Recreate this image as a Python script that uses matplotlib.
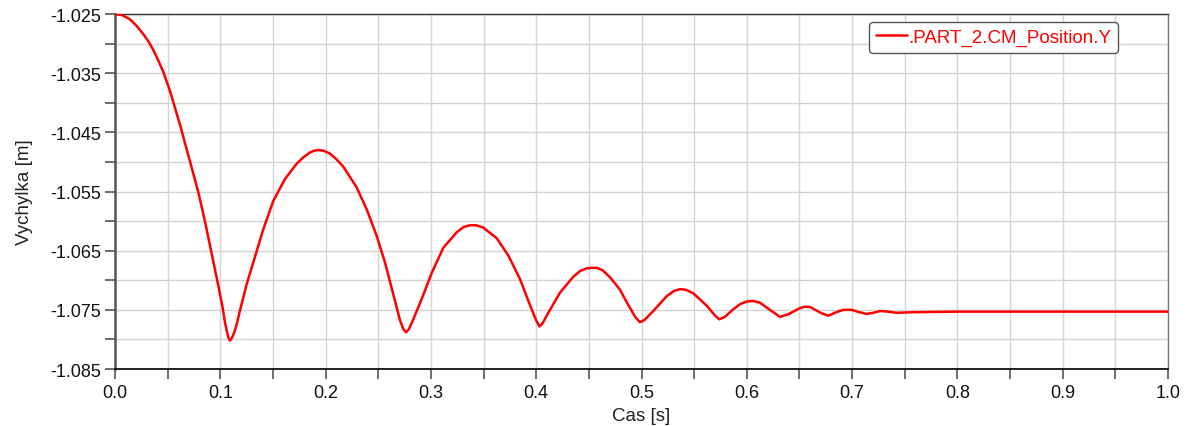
import matplotlib
matplotlib.use("Agg")
import matplotlib.pyplot as plt
from matplotlib.ticker import MultipleLocator, FormatStrFormatter

plt.rcParams['font.family'] = ['Liberation Sans', 'DejaVu Sans']

# Time [s]
time_s = [0.000, 0.007, 0.0142, 0.0205, 0.0269, 0.0320, 0.0364, 0.0410, 0.0459, 0.0522,
          0.0617, 0.0712, 0.0791, 0.0855, 0.0918, 0.0981, 0.1020, 0.1045, 0.1075, 0.1092,
          0.1112, 0.1135, 0.1155, 0.1187, 0.1250, 0.1330, 0.1408, 0.1503, 0.1614, 0.1725,
          0.1790, 0.1852, 0.1890, 0.1931, 0.1980, 0.2042, 0.2100, 0.2168, 0.2295, 0.2390,
          0.2485, 0.2564, 0.2643, 0.2707, 0.2740, 0.2764, 0.2790, 0.2833, 0.2912, 0.3007,
          0.3118, 0.3245, 0.3310, 0.3371, 0.3430, 0.3498, 0.3625, 0.3735, 0.3846, 0.3941,
          0.4000, 0.4030, 0.4060, 0.4115, 0.4226, 0.4352, 0.4420, 0.4479, 0.4530, 0.4574,
          0.4630, 0.4701, 0.4796, 0.4859, 0.4940, 0.4986, 0.5030, 0.5112, 0.5239, 0.5310,
          0.5366, 0.5420, 0.5492, 0.5619, 0.5700, 0.5739, 0.5790, 0.5872, 0.5940, 0.5999,
          0.6060, 0.6125, 0.6220, 0.6315, 0.6400, 0.6505, 0.6550, 0.6600, 0.6700, 0.6774,
          0.6850, 0.6917, 0.6996, 0.7070, 0.7138, 0.7200, 0.7265, 0.7340, 0.7423, 0.7581,
          0.8000, 0.9000, 1.0000]

# Position Y [m]
pos_y = [-1.0250, -1.0252, -1.0259, -1.0270, -1.0284, -1.0297, -1.0311, -1.0328, -1.0348, -1.0380,
         -1.0437, -1.0499, -1.0551, -1.0601, -1.0655, -1.0709, -1.0744, -1.0772, -1.0796, -1.0802,
         -1.0797, -1.0787, -1.0775, -1.0751, -1.0707, -1.0660, -1.0614, -1.0566, -1.0529, -1.0503,
         -1.0492, -1.0484, -1.0481, -1.0480, -1.0481, -1.0486, -1.0495, -1.0508, -1.0543, -1.0580,
         -1.0625, -1.0670, -1.0724, -1.0768, -1.0783, -1.0788, -1.0783, -1.0766, -1.0732, -1.0688,
         -1.0645, -1.0619, -1.0610, -1.0607, -1.0607, -1.0611, -1.0629, -1.0658, -1.0698, -1.0742,
         -1.0768, -1.0778, -1.0773, -1.0755, -1.0721, -1.0694, -1.0684, -1.0680, -1.0679, -1.0679,
         -1.0683, -1.0695, -1.0716, -1.0737, -1.0762, -1.0771, -1.0767, -1.0752, -1.0727, -1.0718,
         -1.0715, -1.0716, -1.0722, -1.0743, -1.0760, -1.0766, -1.0762, -1.0749, -1.0740, -1.0736,
         -1.0735, -1.0738, -1.0750, -1.0762, -1.0757, -1.0747, -1.0745, -1.0745, -1.0755, -1.0760,
         -1.0754, -1.0750, -1.0750, -1.0754, -1.0757, -1.0755, -1.0752, -1.0753, -1.0755, -1.0754,
         -1.0753, -1.0753, -1.0753]

series_label = ".PART_2.CM_Position.Y"
x_label = "Cas [s]"
y_label = "Vychylka [m]"

fig = plt.figure(figsize=(11.91, 4.27), dpi=100)
ax = fig.add_axes([115/1191, 57/427, 1053/1191, 355/427])

ax.plot(time_s, pos_y, color='#ff0000', lw=1.8, label=series_label, zorder=3,
        solid_joinstyle='round', solid_capstyle='round')

ax.set_xlim(0.0, 1.0)
ax.set_ylim(-1.085, -1.025)
ax.xaxis.set_major_locator(MultipleLocator(0.1))
ax.xaxis.set_minor_locator(MultipleLocator(0.05))
ax.xaxis.set_major_formatter(FormatStrFormatter('%.1f'))
ax.set_yticks([-1.085, -1.075, -1.065, -1.055, -1.045, -1.035, -1.025])
ax.set_yticks([-1.08, -1.07, -1.06, -1.05, -1.04, -1.03], minor=True)
ax.yaxis.set_major_formatter(FormatStrFormatter('%.3f'))

ax.grid(True, which='both', color='#d4d4d4', lw=1.0, zorder=0)
ax.set_axisbelow(True)

ax.tick_params(which='both', direction='out', length=7, width=1.2, color='#555555',
               labelsize=13, labelcolor='#111111')
ax.tick_params(axis='x', pad=4)
ax.tick_params(axis='y', pad=3)

ax.spines['left'].set_color('#555555')
ax.spines['left'].set_linewidth(1.8)
ax.spines['bottom'].set_color('#111111')
ax.spines['bottom'].set_linewidth(1.3)
ax.spines['top'].set_color('#333333')
ax.spines['top'].set_linewidth(1.0)
ax.spines['right'].set_color('#777777')
ax.spines['right'].set_linewidth(1.0)

ax.set_xlabel(x_label, fontsize=13.5, color='#222222', labelpad=4)
ax.set_ylabel(y_label, fontsize=13.5, color='#222222', labelpad=12)

leg = ax.legend(loc='upper right', bbox_to_anchor=(0.9525, 0.977), fontsize=13.5,
                handlelength=1.7, handletextpad=0.05, borderpad=0.35, borderaxespad=0,
                frameon=True, fancybox=True, framealpha=1.0, edgecolor='#555555')
leg.get_frame().set_linewidth(1.0)
for txt in leg.get_texts():
    txt.set_color('#ff0000')

fig.savefig('out.png', dpi=100)
